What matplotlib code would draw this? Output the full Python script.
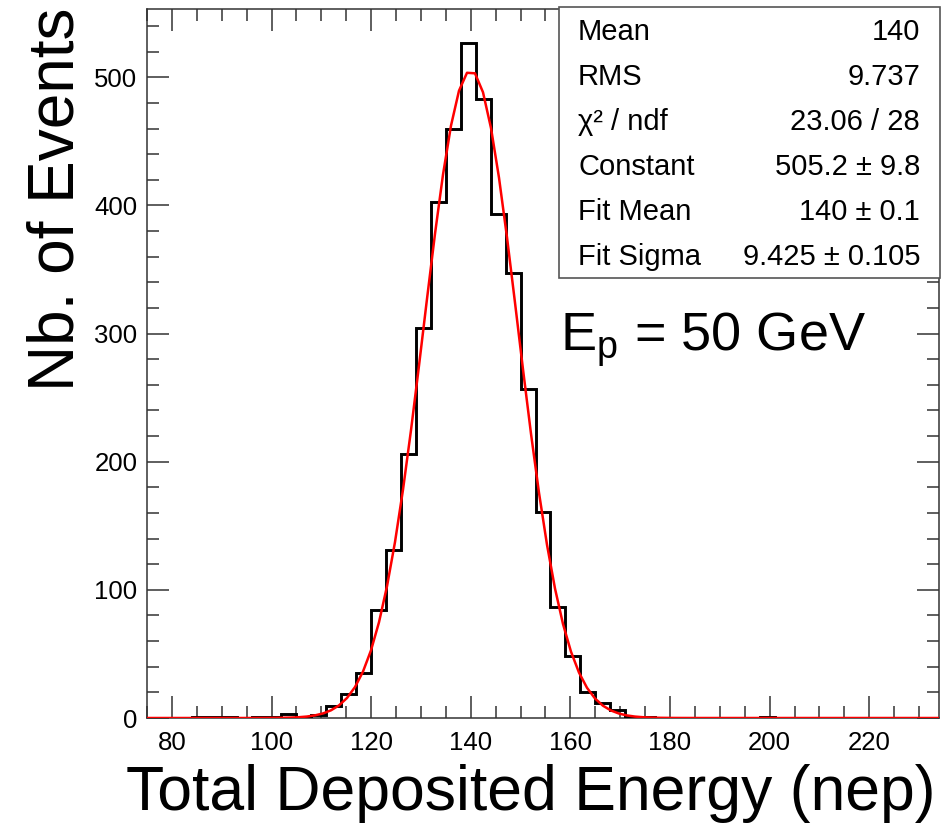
"""
Total deposited energy histogram with Gaussian fit (ROOT style)
"""
import numpy as np
import matplotlib
matplotlib.use('Agg')
import matplotlib.pyplot as plt
from matplotlib.patches import Rectangle
from matplotlib.ticker import MultipleLocator

plt.rcParams['font.family'] = ['Liberation Sans', 'DejaVu Sans']
plt.rcParams['mathtext.fontset'] = 'custom'
plt.rcParams['mathtext.rm'] = 'Liberation Sans'
plt.rcParams['mathtext.it'] = 'Liberation Sans:italic'

# histogram data (bin width 3 nep, from 75 to 234)
x_min, x_max, bin_w = 75, 234, 3
counts = [0, 0, 0, 1, 1, 1, 0, 1, 1, 3,
          0, 2, 9, 19, 35, 84, 131, 206, 304, 403,
          460, 527, 483, 393, 347, 257, 161, 87, 48, 20,
          12, 6, 1, 1, 0, 0, 0, 0, 0, 0,
          0, 1, 0, 0, 0, 0, 0, 0, 0, 0,
          0, 0, 0]
edges = np.arange(x_min, x_max + bin_w, bin_w)

# gaussian fit parameters
fit_const, fit_mean, fit_sigma = 505.2, 140.0, 9.425

stat_labels = ['Mean', 'RMS', 'χ² / ndf', 'Constant', 'Fit Mean', 'Fit Sigma']
stat_values = ['140', '9.737', '23.06 / 28', '505.2 ± 9.8', '140 ± 0.1', '9.425 ± 0.105']

W, H = 947, 824
fig = plt.figure(figsize=(W / 100, H / 100), dpi=100)
ax = fig.add_axes([147 / W, (H - 718) / H, 792 / W, 709 / H])

ax.stairs(counts, edges, color='black', linewidth=2.1, zorder=3)

xf = np.linspace(x_min, x_max, 100)
yf = fit_const * np.exp(-0.5 * ((xf - fit_mean) / fit_sigma) ** 2)
ax.plot(xf, yf, color='red', linewidth=1.8, zorder=4)

ax.set_xlim(x_min, x_max)
ax.set_ylim(0, 1.05 * max(counts))

ax.xaxis.set_major_locator(MultipleLocator(20))
ax.xaxis.set_minor_locator(MultipleLocator(5))
ax.yaxis.set_major_locator(MultipleLocator(100))
ax.yaxis.set_minor_locator(MultipleLocator(20))
ax.tick_params(which='both', direction='in', top=True, right=True,
               color='#333333', width=1.1, labelsize=18.5)
ax.tick_params(which='major', length=15.5)
ax.tick_params(which='minor', length=8.5)
ax.tick_params(axis='x', pad=9)
ax.tick_params(axis='y', pad=7)
for s in ax.spines.values():
    s.set_color('#333333')
    s.set_linewidth(1.1)

# axis titles
fig.text(935 / W, (H - 810) / H, 'Total Deposited Energy (nep)',
         fontsize=45, ha='right', va='baseline')
fig.text(57 / W, 1 - 8 / H, 'Nb. of Events', fontsize=46,
         rotation=90, ha='center', va='top')

# stats box
box = Rectangle((559 / W, (H - 278) / H), 381 / W, 271 / H,
                transform=fig.transFigure, facecolor='white',
                edgecolor='#555555', linewidth=1.2, zorder=5)
fig.patches.append(box)
row_y = [32, 77, 122, 167, 212, 257]
for lab, val, yy in zip(stat_labels, stat_values, row_y):
    fig.text(578 / W, 1 - yy / H, lab, fontsize=21, ha='left', va='center', zorder=6)
    fig.text(920 / W, 1 - yy / H, val, fontsize=21, ha='right', va='center', zorder=6)

fig.text(560 / W, (H - 351) / H, r'E$_{\rm p}$ = 50 GeV', fontsize=39,
         ha='left', va='baseline')

fig.savefig('out.png', dpi=100)
print('Saved: out.png')
